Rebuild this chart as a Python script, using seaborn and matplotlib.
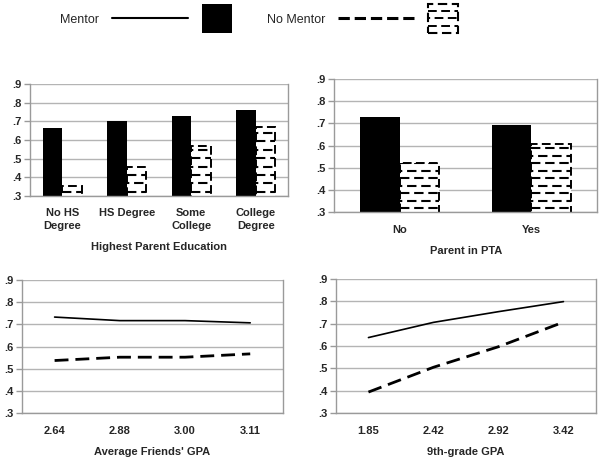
import numpy as np
import pandas as pd
import matplotlib
matplotlib.use('Agg')
import matplotlib.pyplot as plt
import matplotlib.patches as mpatches
from matplotlib.lines import Line2D
import seaborn as sns

# data
edu_cats = ['No HS\nDegree', 'HS Degree', 'Some\nCollege', 'College\nDegree']
edu_mentor = [0.662, 0.700, 0.728, 0.758]
edu_nomentor = [0.354, 0.456, 0.567, 0.670]

pta_cats = ['No', 'Yes']
pta_mentor = [0.730, 0.692]
pta_nomentor = [0.522, 0.606]

friends_cats = ['2.64', '2.88', '3.00', '3.11']
friends_mentor = [0.733, 0.717, 0.717, 0.707]
friends_nomentor = [0.537, 0.552, 0.552, 0.567]

gpa_cats = ['1.85', '2.42', '2.92', '3.42']
gpa_mentor = [0.638, 0.706, 0.754, 0.799]
gpa_nomentor = [0.394, 0.505, 0.597, 0.707]

groups = ['Mentor', 'No Mentor']

sns.set_style('white')
plt.rcParams['font.family'] = ['Liberation Sans', 'DejaVu Sans']

GRID = '#b4b4b4'
SPINE = '#9a9a9a'
YMIN, YMAX = 0.3, 0.9
DASH = (0, (4.5, 2.2))


def long_df(cats, a, b):
    return pd.DataFrame({
        'cat': cats * 2,
        'value': list(a) + list(b),
        'group': [groups[0]] * len(cats) + [groups[1]] * len(cats),
    })


def style_axis(ax, ncat, xlabel, fs=8):
    ax.set_ylim(YMIN, YMAX)
    ax.set_yticks(np.arange(YMIN, YMAX + 0.01, 0.1))
    ax.yaxis.set_major_formatter(plt.FuncFormatter(lambda v, p: f'{v:.1f}'.lstrip('0')))
    ax.set_xlim(-0.5, ncat - 0.5)
    ax.set_xticks(range(ncat))
    ax.set_xticks(np.arange(-0.5, ncat, 1.0), minor=True)
    ax.tick_params(axis='x', which='major', length=0, pad=9, labelsize=fs)
    ax.tick_params(axis='x', which='minor', length=4, color=SPINE, width=1)
    ax.tick_params(axis='y', which='major', length=4, color=SPINE, width=1,
                   left=True, labelsize=fs, pad=2)
    for lab in ax.get_xticklabels():
        lab.set_fontweight('bold')
        lab.set_linespacing(1.3)
    for lab in ax.get_yticklabels():
        lab.set_fontweight('bold')
    ax.grid(axis='y', color=GRID, linewidth=1)
    ax.set_axisbelow(True)
    for s in ax.spines.values():
        s.set_visible(True)
        s.set_color(SPINE)
        s.set_linewidth(1)
    ax.spines['top'].set_visible(False)
    ax.set_xlabel(xlabel, fontsize=8, fontweight='bold', labelpad=8)
    ax.set_ylabel('')


def dashed_fill(ax, container, step):
    # dashed horizontal strokes inside the white bars, clipped to each bar
    for patch in container.patches:
        patch.set_facecolor('white')
        patch.set_edgecolor('black')
        patch.set_linestyle(DASH)
        patch.set_linewidth(1.4)
        x0 = patch.get_x()
        w = patch.get_width()
        top = patch.get_y() + patch.get_height()
        levels = np.arange(YMIN + step / 2, top, step)
        for i, yy in enumerate(levels):
            off = 0 if i % 2 == 0 else 3.4
            ln, = ax.plot([x0, x0 + w], [yy, yy], color='black', lw=1.5,
                          linestyle=(off, (4.5, 2.3)), zorder=patch.get_zorder() + 0.1)
            ln.set_clip_path(patch)


def bar_panel(ax, cats, a, b, xlabel, step):
    df = long_df(cats, a, b)
    sns.barplot(data=df, x='cat', y='value', hue='group', hue_order=groups,
                palette=['black', 'white'], width=0.6, ax=ax, legend=False,
                saturation=1, errorbar=None)
    for patch in ax.containers[0].patches:
        patch.set_linewidth(0)
    dashed_fill(ax, ax.containers[1], step)
    style_axis(ax, len(cats), xlabel)


def line_panel(ax, cats, a, b, xlabel):
    df = long_df(cats, a, b)
    sns.lineplot(data=df, x='cat', y='value', hue='group', style='group',
                 hue_order=groups, palette=['black', 'black'],
                 dashes={'Mentor': '', 'No Mentor': (5, 2.5)},
                 ax=ax, legend=False, sort=False)
    ax.lines[0].set_linewidth(1.2)
    ax.lines[1].set_linewidth(2.0)
    style_axis(ax, len(cats), xlabel)


fig = plt.figure(figsize=(6.01, 4.61), dpi=100)

ax1 = fig.add_axes([0.050, 0.575, 0.429, 0.243])
ax2 = fig.add_axes([0.556, 0.540, 0.4376, 0.2885])
ax3 = fig.add_axes([0.0366, 0.104, 0.434, 0.2885])
ax4 = fig.add_axes([0.559, 0.104, 0.4326, 0.2907])

bar_panel(ax1, edu_cats, edu_mentor, edu_nomentor, 'Highest Parent Education', 0.045)
bar_panel(ax2, pta_cats, pta_mentor, pta_nomentor, 'Parent in PTA', 0.034)
line_panel(ax3, friends_cats, friends_mentor, friends_nomentor, "Average Friends' GPA")
line_panel(ax4, gpa_cats, gpa_mentor, gpa_nomentor, '9th-grade GPA')


class LineAndSquare:
    """legend key: a line sample followed by a bar swatch"""

    def legend_artist(self, legend, orig_handle, fontsize, handlebox):
        line, patch = orig_handle
        x0, y0 = -handlebox.xdescent, -handlebox.ydescent
        w, h = handlebox.width, handlebox.height
        sq = 21.5
        gap = 10
        yc = y0 + h / 2
        ln = Line2D([x0, x0 + w - sq - gap], [yc, yc], color='black',
                    lw=line.get_linewidth(), linestyle=line.get_linestyle())
        rect = mpatches.Rectangle((x0 + w - sq, yc - sq / 2), sq, sq,
                                  facecolor=patch.get_facecolor(),
                                  edgecolor='black', lw=patch.get_linewidth(),
                                  linestyle=patch.get_linestyle())
        handlebox.add_artist(ln)
        handlebox.add_artist(rect)
        if patch.get_facecolor()[0] > 0.5:
            for i, yy in enumerate(np.linspace(yc - sq / 2, yc + sq / 2, 5)[1:-1]):
                off = 0 if i % 2 == 0 else 3.4
                handlebox.add_artist(Line2D([x0 + w - sq, x0 + w], [yy, yy], color='black',
                                            lw=1.4, linestyle=(off, (4.5, 2.3))))
        return rect


keys = [
    (Line2D([], [], lw=1.5), mpatches.Patch(facecolor='black', lw=0)),
    (Line2D([], [], lw=2.2, linestyle=(0, (3, 2))),
     mpatches.Patch(facecolor='white', lw=1.5, linestyle=DASH)),
]
fig.legend(keys, groups, loc='center', bbox_to_anchor=(0.431, 0.957), ncol=2,
           frameon=False, markerfirst=False, fontsize=9, handlelength=9.6,
           columnspacing=2.8, handletextpad=1.0,
           handler_map={tuple: LineAndSquare()})

fig.savefig('out.png', dpi=100)
